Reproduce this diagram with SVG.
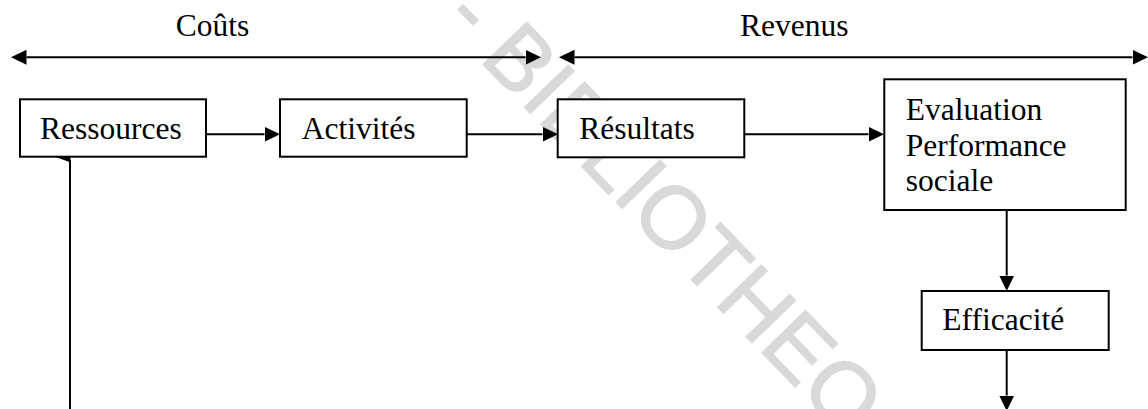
<svg xmlns="http://www.w3.org/2000/svg" width="1148" height="409" viewBox="0 0 1148 409">
<defs>
<style>
.box{fill:#fff;stroke:#000;stroke-width:2}
.lbl{font-family:"Liberation Serif","Times New Roman",serif;font-size:31.5px;fill:#000}
.ln{fill:none;stroke:#000;stroke-width:2}
.wm{font-family:"Liberation Sans",Arial,sans-serif;font-size:88px;fill:#d9d9d9;stroke:#d9d9d9;stroke-width:1.5}
</style>
<marker id="ah" markerUnits="userSpaceOnUse" markerWidth="16" markerHeight="16" refX="0" refY="7.5" orient="auto-start-reverse" viewBox="0 0 16 15">
<path d="M0,0 L15.5,7.5 L0,15 Z" fill="#000"/>
</marker>
</defs>
<rect width="1148" height="409" fill="#fff"/>
<text class="wm" transform="translate(441,20.5) rotate(46)">- BIBLIOTHEQ</text>
<g id="labels">
<text class="lbl" x="175.7" y="36">Coûts</text>
<text class="lbl" x="740" y="36">Revenus</text>
</g>
<g id="connectors">
<path class="ln" d="M26.5,57.3 H525.5" marker-start="url(#ah)" marker-end="url(#ah)"/>
<path class="ln" d="M574.5,57.3 H1132.5" marker-start="url(#ah)" marker-end="url(#ah)"/>
<path class="ln" d="M206,134.3 H264.5" marker-end="url(#ah)"/>
<path class="ln" d="M467,134.3 H542.5" marker-end="url(#ah)"/>
<path class="ln" d="M744,134.3 H868.5" marker-end="url(#ah)"/>
<path class="ln" d="M1006.7,210 V275.5" marker-end="url(#ah)"/>
<path class="ln" d="M1006.7,350 V395.5" marker-end="url(#ah)"/>
<path class="ln" d="M70,409 V160"/>
<polygon points="69,148.5 55.5,157 71,162.5" fill="#000"/>
</g>
<g id="ressources">
<rect class="box" x="20" y="99.3" width="186" height="57.4"/>
<text class="lbl" x="40" y="139.3">Ressources</text>
</g>
<g id="activites">
<rect class="box" x="280" y="99.3" width="186.7" height="57.4"/>
<text class="lbl" x="301.7" y="139.3">Activités</text>
</g>
<g id="resultats">
<rect class="box" x="557.7" y="99.3" width="186.6" height="58"/>
<text class="lbl" x="579.3" y="139.3">Résultats</text>
</g>
<g id="evaluation">
<rect class="box" x="884.3" y="79.3" width="241.4" height="130.7"/>
<text class="lbl" x="905.7" y="120">Evaluation</text>
<text class="lbl" x="905.7" y="156">Performance</text>
<text class="lbl" x="905.7" y="190.7">sociale</text>
</g>
<g id="efficacite">
<rect class="box" x="921.7" y="291" width="187" height="59"/>
<text class="lbl" x="942.3" y="330">Efficacité</text>
</g>
</svg>
